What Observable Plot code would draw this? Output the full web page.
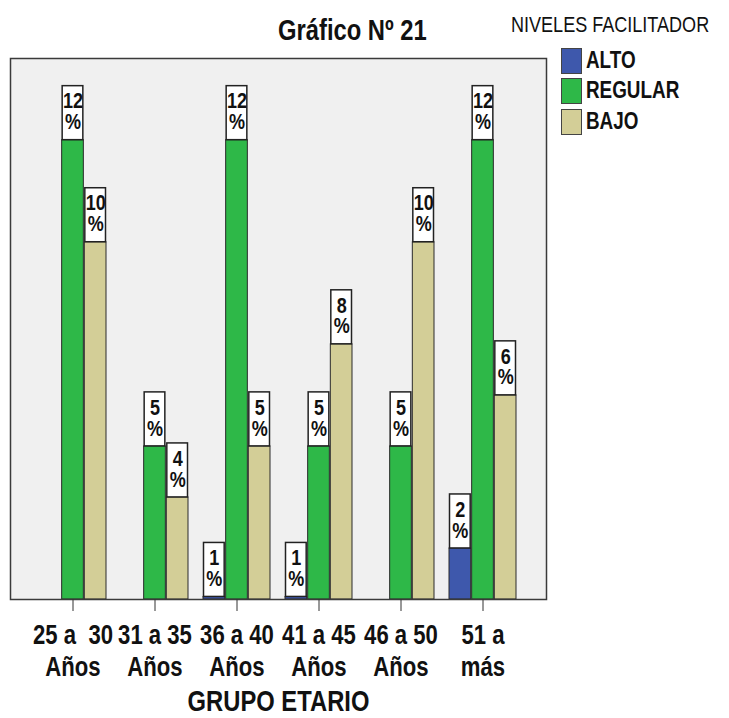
<!DOCTYPE html>
<html>
<head>
<meta charset="utf-8">
<script src="https://cdn.jsdelivr.net/npm/d3@7"></script>
<script src="https://cdn.jsdelivr.net/npm/@observablehq/plot@0.6"></script>
<style>
  html, body { margin: 0; padding: 0; background: #ffffff; }
  #wrap { position: relative; width: 729px; height: 718px; overflow: hidden;
          font-family: "Liberation Sans", Arial, sans-serif; color: #111; }
  .narrow { display: inline-block; transform: scaleX(0.82); transform-origin: left center; white-space: nowrap; }
  #title { position: absolute; left: 278px; top: 14px; font-size: 29px; font-weight: bold; }
  #legend { position: absolute; left: 511px; top: 12px; }
  #legend .lt { font-size: 22px; }
  #legend .item { position: absolute; left: 50px; height: 26px; white-space: nowrap; }
  #legend .sw { position: absolute; left: 0; top: 0; width: 19px; height: 24px; border: 1px solid #444; }
  #legend .lab { position: absolute; left: 25px; top: -2px; font-size: 23px; line-height: 28px; font-weight: bold; }
</style>
</head>
<body>
<div id="wrap">
  <div id="chart"></div>
  <div id="title"><span class="narrow">Gráfico Nº 21</span></div>
  <div id="legend"></div>
</div>
<script>
// ---- data ----
const grupos = ["25 a 30 Años", "31 a 35 Años", "36 a 40 Años", "41 a 45 Años", "46 a 50 Años", "51 a más"];
const tickLabels = ["25 a \u00a030\nAños", "31 a 35\nAños", "36 a 40\nAños", "41 a 45\nAños", "46 a 50\nAños", "51 a\nmás"];
const niveles = ["ALTO", "REGULAR", "BAJO"];
const colores = ["#3e58ac", "#2eb848", "#d3ce97"];
// bar heights (frequency units, as drawn)
const alto    = [0, 0, 0.05, 0.05, 0, 1];
const regular = [9, 3, 9, 3, 3, 9];
const bajo    = [7, 2, 3, 5, 7, 4];
// percentage labels
const altoPct    = [null, null, 1, 1, null, 2];
const regularPct = [12, 5, 12, 5, 5, 12];
const bajoPct    = [10, 4, 5, 8, 10, 6];
const yMax = 10.6;
const legendTitle = "NIVELES FACILITADOR";
const xLabel = "GRUPO ETARIO";

// ---- build table ----
const series = [alto, regular, bajo];
const pcts = [altoPct, regularPct, bajoPct];
const rows = [];
grupos.forEach((g, gi) => niveles.forEach((n, ni) => {
  rows.push({grupo: g, nivel: n, valor: series[ni][gi], pct: pcts[ni][gi]});
}));

// ---- layout ----
const W = 729, H = 718, mL = 10, mR = 183, mT = 58, mB = 119;
const padIn = 0.18, padOut = 0.323;
const step = (W - mL - mR) / (grupos.length - padIn + 2 * padOut);
const barW = step * (1 - padIn) / 3;
const FONT = '"Liberation Sans", Arial, sans-serif';

const marks = [Plot.frame({fill: "#f0f0f0", stroke: "none"})];
niveles.forEach((n, i) => {
  const sub = rows.filter(d => d.nivel === n && d.valor > 0);
  marks.push(Plot.barY(sub, {
    x: "grupo", y: "valor", fill: "nivel", stroke: "#2a2a2a", strokeWidth: 1,
    insetLeft: i * barW, insetRight: (2 - i) * barW
  }));
});
niveles.forEach((n, i) => {
  const sub = rows.filter(d => d.nivel === n && d.pct != null);
  marks.push(Plot.barY(sub, {
    x: "grupo", y1: "valor", y2: "valor", fill: "white", stroke: "#222", strokeWidth: 1.5,
    insetLeft: i * barW + 0.5, insetRight: (2 - i) * barW + 0.5, insetTop: -54, insetBottom: 0
  }));
  marks.push(Plot.text(sub, {
    x: "grupo", y: "valor", text: d => `${d.pct}\n%`, dx: (i - 1) * barW, dy: -28,
    lineAnchor: "middle", lineHeight: 0.95, fontSize: 22, fontWeight: "bold", fill: "#111"
  }));
});
marks.push(Plot.frame({stroke: "#3a3a3a", strokeWidth: 1.5}));
marks.push(Plot.axisX({
  tickSize: 12, tickPadding: 10, fontSize: 27, fontWeight: "bold", lineHeight: 1.18,
  tickFormat: d => tickLabels[grupos.indexOf(d)], label: null, stroke: "#333"
}));
marks.push(Plot.text([xLabel], {frameAnchor: "bottom", lineAnchor: "middle", dy: 102, fontSize: 29, fontWeight: "bold", fill: "#111"}));

const chart = Plot.plot({
  width: W, height: H, marginLeft: mL, marginRight: mR, marginTop: mT, marginBottom: mB,
  style: {fontFamily: FONT, background: "transparent", color: "#111"},
  x: {domain: grupos, paddingInner: padIn, paddingOuter: padOut, align: 0.5},
  y: {domain: [0, yMax], axis: null},
  color: {domain: niveles, range: colores},
  marks
});
// narrow the glyphs (Arial Narrow look) around each text's own anchor
chart.querySelectorAll("text").forEach(t => {
  const tr = t.getAttribute("transform") || "";
  t.setAttribute("transform", `${tr} scale(0.82,1)`);
});
document.getElementById("chart").appendChild(chart);

// ---- legend ----
const lg = document.getElementById("legend");
const lt = document.createElement("div");
lt.className = "lt"; lt.innerHTML = `<span class="narrow">${legendTitle}</span>`; lg.appendChild(lt);
const tops = [36, 66, 97];
niveles.forEach((n, i) => {
  const it = document.createElement("div");
  it.className = "item"; it.style.top = tops[i] + "px";
  const sw = document.createElement("div");
  sw.className = "sw"; sw.style.background = colores[i];
  const lab = document.createElement("div");
  lab.className = "lab"; lab.innerHTML = `<span class="narrow">${n}</span>`;
  it.appendChild(sw); it.appendChild(lab); lg.appendChild(it);
});
</script>
</body>
</html>
